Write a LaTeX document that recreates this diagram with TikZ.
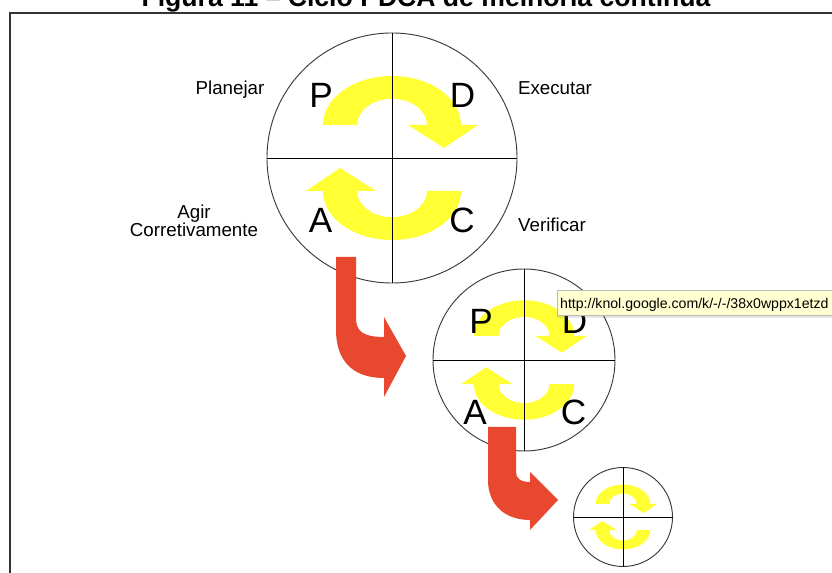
\documentclass[tikz,border=0pt]{standalone}
\usepackage{fontspec}
\setsansfont{Liberation Sans}
\usepackage{xcolor}
\definecolor{pdYellow}{HTML}{FFFF33}
\definecolor{pdRed}{HTML}{E8482F}
\definecolor{pdTip}{HTML}{FFFFD2}
\definecolor{pdRing}{HTML}{3A3A3A}
\usepackage{tikz}
\usetikzlibrary{shadows}

\begin{document}
\begin{tikzpicture}[
      x=0.03cm, y=0.03cm,
      every node/.style={font=\sffamily},
      ring/.style={circle,draw=pdRing,line width=0.8pt,inner sep=0pt,outer sep=0pt},
      cross/.style={black,line width=0.8pt},
      letter/.style={font=\sffamily\fontsize{30}{30}\selectfont,anchor=base,inner sep=0pt},
      stage/.style={font=\sffamily\fontsize{16}{16}\selectfont,anchor=base,inner sep=0pt,align=center},
      redbend/.style={fill=pdRed},
      tipbox/.style={draw=gray!55,fill=pdTip,font=\sffamily\fontsize{12.05}{12.05}\selectfont,
                     text width=8.7cm,align=left,
                     text height=12pt,text depth=1.5pt,inner xsep=2.5pt,inner ysep=3.9pt,
                     drop shadow={opacity=0.2,shadow xshift=0pt,shadow yshift=-2pt}},
      swirl/.pic={
        \foreach \r in {0,180}
          \fill[pdYellow,rotate=\r] (-0.552,0.264) -- (-0.28,0.264)
            arc[start angle=180,end angle=0,x radius=0.28,y radius=0.21]
            -- (0.128,0.264) -- (0.416,0.08) -- (0.688,0.264) -- (0.552,0.264)
            arc[start angle=0,end angle=180,x radius=0.552,y radius=0.392] -- cycle;
      },
    ]
    \useasboundingbox (0,0) rectangle (832,-573);

    % Frame and caption
    \draw[line width=1.7pt,black!80] (10,-600) -- (10,-13) -- (860,-13);
    \node[font=\sffamily\bfseries\fontsize{22.7}{22.7}\selectfont,anchor=base] (title) at (426,-7)
      {Figura 11 – Ciclo PDCA de melhoria contínua};

    % Cycles
    \node[ring,minimum size=7.5cm] (big) at (392,-158) {};
    \node[ring,minimum size=5.46cm] (mid) at (524,-360) {};
    \node[ring,minimum size=2.97cm] (small) at (623,-517) {};
    \pic[scale=125] at (big) {swirl};
    \pic[scale=91] at (mid) {swirl};
    \pic[scale=49.5] at (small) {swirl};
    \foreach \c in {big,mid,small} {
      \draw[cross] (\c.north) -- (\c.south);
      \draw[cross] (\c.west) -- (\c.east);
    }

    % Letters
    \node[letter] (bigP) at (321,-108) {P};
    \node[letter] (bigD) at (462.5,-108) {D};
    \node[letter] (bigA) at (320.5,-233) {A};
    \node[letter] (bigC) at (462,-233) {C};
    \node[letter] (midP) at (481,-334) {P};
    \node[letter] (midD) at (574.5,-334) {D};
    \node[letter] (midA) at (475,-425) {A};
    \node[letter] (midC) at (573.5,-425) {C};

    % Stage labels
    \node[stage] (plan) at (230,-95) {Planejar};
    \node[stage] (exec) at (555,-95) {Executar};
    \node[stage] (act) at (194,-237) {Agir\\Corretivamente};
    \node[stage] (check) at (552,-232) {Verificar};

    % Red bends
    \fill[redbend] (336,-257) -- (356,-257) -- (356,-318)
      .. controls (356,-332) and (364,-337) .. (384,-337) -- (384,-317) -- (406,-356)
      -- (384,-397) -- (384,-378) .. controls (352,-378) and (336,-360) .. (336,-330) -- cycle;
    \fill[redbend] (488,-427) -- (516,-427) -- (516,-472)
      .. controls (516,-478) and (520,-482) .. (530,-482) -- (530,-472) -- (558,-500)
      -- (530,-530) -- (530,-520) .. controls (505,-520) and (488,-505) .. (488,-480) -- cycle;

    % Tooltip
    \node[tipbox,anchor=north west] (url) at (557,-290) {http://knol.google.com/k/-/-/38x0wppx1etzd};
  \end{tikzpicture}
\end{document}
